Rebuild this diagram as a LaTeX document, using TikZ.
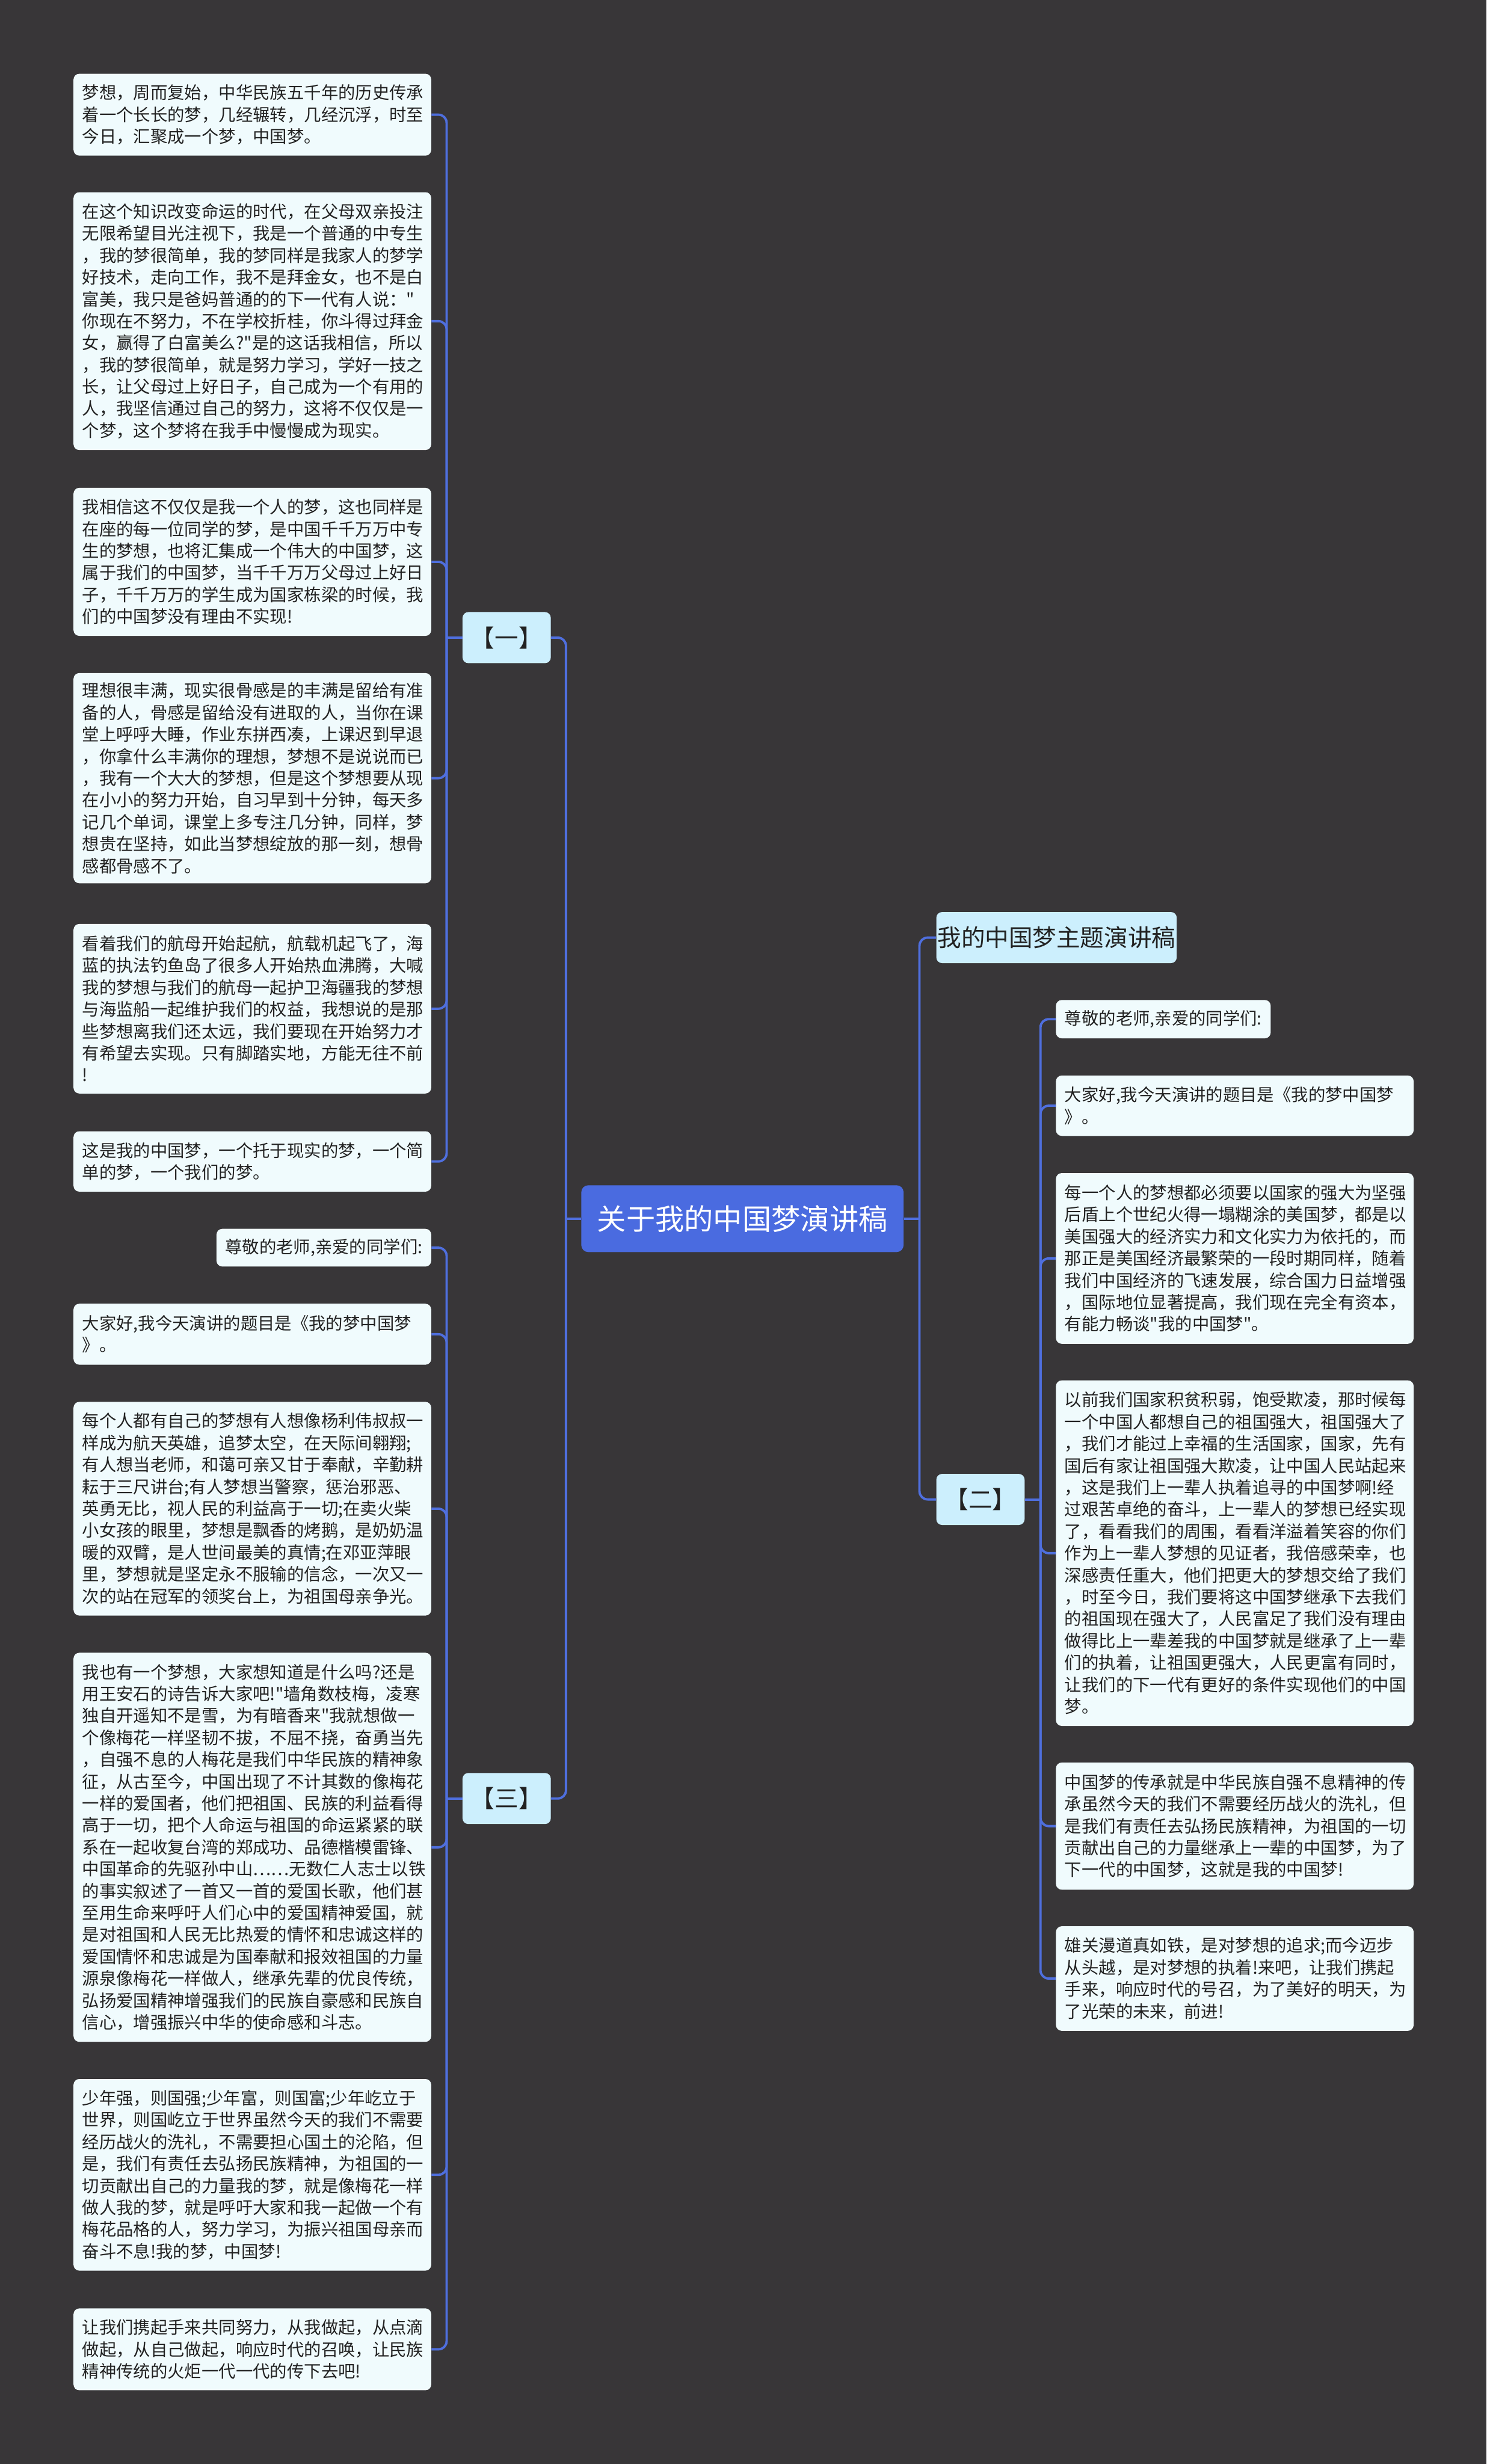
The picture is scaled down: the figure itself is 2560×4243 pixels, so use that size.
\documentclass[tikz,border=0pt]{standalone}
\usepackage{fontspec}
\newfontfamily\cjkf{Noto Sans CJK SC}
\usetikzlibrary{calc}
\definecolor{bgc}{HTML}{383638}
\definecolor{linec}{HTML}{4F6FDE}
\definecolor{rootf}{HTML}{4A6BE0}
\definecolor{hdrf}{HTML}{CCEFFD}
\definecolor{leaff}{HTML}{F0FBFD}
\definecolor{leaft}{HTML}{222222}
\newcommand\lfnt{\cjkf\fontsize{14.7pt}{18.85pt}\selectfont}
\newcommand\hfnt{\cjkf\fontsize{20.5pt}{24pt}\selectfont}
\newcommand\rfnt{\cjkf\fontsize{25pt}{30pt}\selectfont}
\tikzset{
 conn/.style={draw=linec, line width=2pt, rounded corners=7pt},
 leaf/.style={rounded corners=5pt, fill=leaff, text=leaft, font=\lfnt, inner xsep=7.5pt, inner ysep=2pt, align=left, text width=293pt},
 leafs/.style={rounded corners=5pt, fill=leaff, text=leaft, font=\lfnt, inner xsep=7.5pt, inner ysep=2pt},
 hdr/.style={rounded corners=5pt, fill=hdrf, text=leaft, font=\hfnt, minimum width=76pt, minimum height=44pt, inner sep=0pt},
 rootnode/.style={rounded corners=6pt, fill=rootf, text=white, font=\rfnt, minimum width=277.5pt, minimum height=57.5pt, inner sep=0pt},
}
\begin{document}
\begin{tikzpicture}[x=0.5pt,y=-0.5pt]
\fill[bgc] (0,0) rectangle (2560,4243);
\useasboundingbox (0,0) rectangle (2560,4243);

% central
\node[rootnode] (root) at (1278.5,2098.5) {关于我的中国梦演讲稿};
\node[hdr] (one) at (872.5,1098) {【一】};
\node[hdr] (three) at (872.5,3097) {【三】};
\node[hdr, anchor=west] (two) at (1612,2582) {【二】};
\node[hdr, anchor=west, minimum width=207pt] (title) at (1612,1614.5) {我的中国梦主题演讲稿};

% group one leaves
\node[leaf, anchor=east, minimum height=70.5pt] (l1) at (743,197.5) {梦想，周而复始，中华民族五千年的历史传承\\着一个长长的梦，几经辗转，几经沉浮，时至\\今日，汇聚成一个梦，中国梦。};
\node[leaf, anchor=east, minimum height=222pt] (l2) at (743,553) {在这个知识改变命运的时代，在父母双亲投注\\无限希望目光注视下，我是一个普通的中专生\\，我的梦很简单，我的梦同样是我家人的梦学\\好技术，走向工作，我不是拜金女，也不是白\\富美，我只是爸妈普通的的下一代有人说："\\你现在不努力，不在学校折桂，你斗得过拜金\\女，赢得了白富美么?"是的这话我相信，所以\\，我的梦很简单，就是努力学习，学好一技之\\长，让父母过上好日子，自己成为一个有用的\\人，我坚信通过自己的努力，这将不仅仅是一\\个梦，这个梦将在我手中慢慢成为现实。};
\node[leaf, anchor=east, minimum height=127.5pt] (l3) at (743,967.5) {我相信这不仅仅是我一个人的梦，这也同样是\\在座的每一位同学的梦，是中国千千万万中专\\生的梦想，也将汇集成一个伟大的中国梦，这\\属于我们的中国梦，当千千万万父母过上好日\\子，千千万万的学生成为国家栋梁的时候，我\\们的中国梦没有理由不实现!};
\node[leaf, anchor=east, minimum height=181pt] (l4) at (743,1340) {理想很丰满，现实很骨感是的丰满是留给有准\\备的人，骨感是留给没有进取的人，当你在课\\堂上呼呼大睡，作业东拼西凑，上课迟到早退\\，你拿什么丰满你的理想，梦想不是说说而已\\，我有一个大大的梦想，但是这个梦想要从现\\在小小的努力开始，自习早到十分钟，每天多\\记几个单词，课堂上多专注几分钟，同样，梦\\想贵在坚持，如此当梦想绽放的那一刻，想骨\\感都骨感不了。};
\node[leaf, anchor=east, minimum height=146pt] (l5) at (743,1737) {看着我们的航母开始起航，航载机起飞了，海\\蓝的执法钓鱼岛了很多人开始热血沸腾，大喊\\我的梦想与我们的航母一起护卫海疆我的梦想\\与海监船一起维护我们的权益，我想说的是那\\些梦想离我们还太远，我们要现在开始努力才\\有希望去实现。只有脚踏实地，方能无往不前\\!};
\node[leaf, anchor=east, minimum height=52pt] (l6) at (743,2000) {这是我的中国梦，一个托于现实的梦，一个简\\单的梦，一个我们的梦。};

% group three leaves
\node[leafs, anchor=east, minimum height=32.5pt] (m1) at (743,2148.5) {尊敬的老师,亲爱的同学们:};
\node[leaf, anchor=east, minimum height=52.5pt] (m2) at (743,2297.5) {大家好,我今天演讲的题目是《我的梦中国梦\\》。};
\node[leaf, anchor=east, minimum height=184pt] (m3) at (743,2598) {每个人都有自己的梦想有人想像杨利伟叔叔一\\样成为航天英雄，追梦太空，在天际间翱翔;\\有人想当老师，和蔼可亲又甘于奉献，辛勤耕\\耘于三尺讲台;有人梦想当警察，惩治邪恶、\\英勇无比，视人民的利益高于一切;在卖火柴\\小女孩的眼里，梦想是飘香的烤鹅，是奶奶温\\暖的双臂，是人世间最美的真情;在邓亚萍眼\\里，梦想就是坚定永不服输的信念，一次又一\\次的站在冠军的领奖台上，为祖国母亲争光。};
\node[leaf, anchor=east, minimum height=335pt] (m4) at (743,3181) {我也有一个梦想，大家想知道是什么吗?还是\\用王安石的诗告诉大家吧!"墙角数枝梅，凌寒\\独自开遥知不是雪，为有暗香来"我就想做一\\个像梅花一样坚韧不拔，不屈不挠，奋勇当先\\，自强不息的人梅花是我们中华民族的精神象\\征，从古至今，中国出现了不计其数的像梅花\\一样的爱国者，他们把祖国、民族的利益看得\\高于一切，把个人命运与祖国的命运紧紧的联\\系在一起收复台湾的郑成功、品德楷模雷锋、\\中国革命的先驱孙中山……无数仁人志士以铁\\的事实叙述了一首又一首的爱国长歌，他们甚\\至用生命来呼吁人们心中的爱国精神爱国，就\\是对祖国和人民无比热爱的情怀和忠诚这样的\\爱国情怀和忠诚是为国奉献和报效祖国的力量\\源泉像梅花一样做人，继承先辈的优良传统，\\弘扬爱国精神增强我们的民族自豪感和民族自\\信心，增强振兴中华的使命感和斗志。};
\node[leaf, anchor=east, minimum height=165pt] (m5) at (743,3745) {少年强，则国强;少年富，则国富;少年屹立于\\世界，则国屹立于世界虽然今天的我们不需要\\经历战火的洗礼，不需要担心国土的沦陷，但\\是，我们有责任去弘扬民族精神，为祖国的一\\切贡献出自己的力量我的梦，就是像梅花一样\\做人我的梦，就是呼吁大家和我一起做一个有\\梅花品格的人，努力学习，为振兴祖国母亲而\\奋斗不息!我的梦，中国梦!};
\node[leaf, anchor=east, minimum height=70.5pt] (m6) at (743,4045.5) {让我们携起手来共同努力，从我做起，从点滴\\做起，从自己做起，响应时代的召唤，让民族\\精神传统的火炬一代一代的传下去吧!};

% group two leaves
\node[leafs, anchor=west, minimum height=33pt] (r1) at (1818,1755) {尊敬的老师,亲爱的同学们:};
\node[leaf, anchor=west, minimum height=52pt] (r2) at (1818,1904) {大家好,我今天演讲的题目是《我的梦中国梦\\》。};
\node[leaf, anchor=west, minimum height=147pt] (r3) at (1818,2167) {每一个人的梦想都必须要以国家的强大为坚强\\后盾上个世纪火得一塌糊涂的美国梦，都是以\\美国强大的经济实力和文化实力为依托的，而\\那正是美国经济最繁荣的一段时期同样，随着\\我们中国经济的飞速发展，综合国力日益增强\\，国际地位显著提高，我们现在完全有资本，\\有能力畅谈"我的中国梦"。};
\node[leaf, anchor=west, minimum height=297.5pt] (r4) at (1818,2674.5) {以前我们国家积贫积弱，饱受欺凌，那时候每\\一个中国人都想自己的祖国强大，祖国强大了\\，我们才能过上幸福的生活国家，国家，先有\\国后有家让祖国强大欺凌，让中国人民站起来\\，这是我们上一辈人执着追寻的中国梦啊!经\\过艰苦卓绝的奋斗，上一辈人的梦想已经实现\\了，看看我们的周围，看看洋溢着笑容的你们\\作为上一辈人梦想的见证者，我倍感荣幸，也\\深感责任重大，他们把更大的梦想交给了我们\\，时至今日，我们要将这中国梦继承下去我们\\的祖国现在强大了，人民富足了我们没有理由\\做得比上一辈差我的中国梦就是继承了上一辈\\们的执着，让祖国更强大，人民更富有同时，\\让我们的下一代有更好的条件实现他们的中国\\梦。};
\node[leaf, anchor=west, minimum height=109.5pt] (r5) at (1818,3144.5) {中国梦的传承就是中华民族自强不息精神的传\\承虽然今天的我们不需要经历战火的洗礼，但\\是我们有责任去弘扬民族精神，为祖国的一切\\贡献出自己的力量继承上一辈的中国梦，为了\\下一代的中国梦，这就是我的中国梦!};
\node[leaf, anchor=west, minimum height=90pt] (r6) at (1818,3407) {雄关漫道真如铁，是对梦想的追求;而今迈步\\从头越，是对梦想的执着!来吧，让我们携起\\手来，响应时代的号召，为了美好的明天，为\\了光荣的未来，前进!};

% junction coordinates
\coordinate (tl) at ([xshift=-13pt]root.west);
\coordinate (tr) at ([xshift=13.5pt]root.east);
\coordinate (b1) at ([xshift=-13.5pt]one.west);
\coordinate (b3) at ([xshift=-13.5pt]three.west);
\coordinate (b2) at ([xshift=13.5pt]two.east);

% connectors
\draw[conn] (root.west) -- (tl);
\draw[conn] (tl) |- (one.east);
\draw[conn] (tl) |- (three.east);
\draw[conn] (root.east) -- (tr);
\draw[conn] (tr) |- (title.west);
\draw[conn] (tr) |- (two.west);

\draw[conn] (one.west) -- (b1);
\foreach \n in {l1,l2,l3,l4,l5,l6} \draw[conn] (b1) |- (\n.east);
\draw[conn] (three.west) -- (b3);
\foreach \n in {m1,m2,m3,m4,m5,m6} \draw[conn] (b3) |- (\n.east);
\draw[conn] (two.east) -- (b2);
\foreach \n in {r1,r2,r3,r4,r5,r6} \draw[conn] (b2) |- (\n.west);
\end{tikzpicture}
\end{document}
